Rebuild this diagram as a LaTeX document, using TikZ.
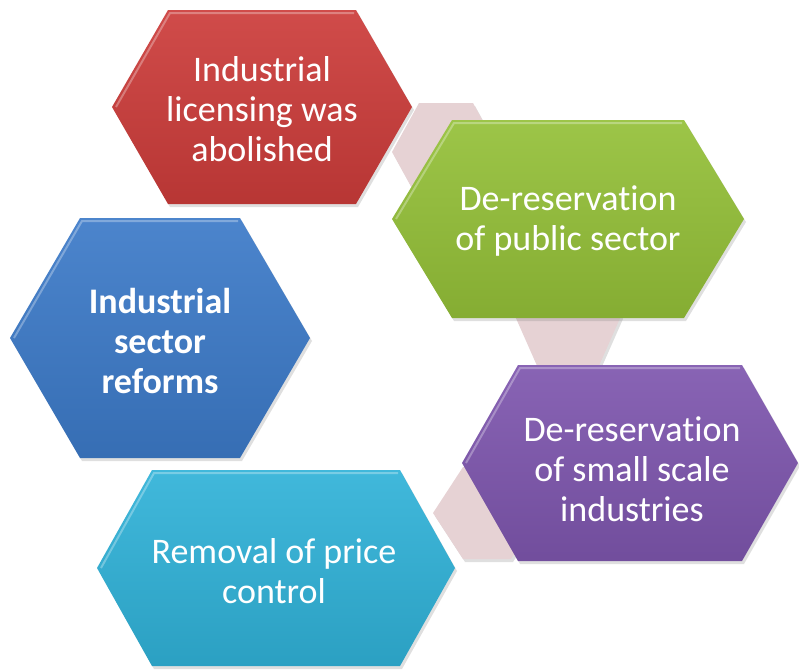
\documentclass[tikz,border=0pt]{standalone}
\usepackage{fontspec}
\setmainfont{Carlito}[RawFeature={-liga;-clig;-calt;-dlig}]
\usetikzlibrary{shadows}

\definecolor{rojo}{RGB}{204,60,58}
\definecolor{verde}{RGB}{148,192,56}
\definecolor{azul}{RGB}{60,122,200}
\definecolor{morado}{RGB}{126,86,174}
\definecolor{celeste}{RGB}{48,178,216}
\definecolor{rosa}{RGB}{230,210,212}

\tikzset{
  texto/.style={text=white, align=center, font=\fontsize{36}{40}\selectfont},
  relleno/.style={top color=#1!92!white, bottom color=#1!90!black},
  sombra/.style={drop shadow={shadow xshift=2pt, shadow yshift=-3pt, opacity=.25}}
}

% hexagono: centro x, centro y, semiancho, semialto, entrada, estilo
\newcommand{\hexagono}[6]{%
  \path[#6]
    ({#1-#3},#2) -- ({#1-#3+#5},{#2-#4}) -- ({#1+#3-#5},{#2-#4})
    -- ({#1+#3},#2) -- ({#1+#3-#5},{#2+#4}) -- ({#1-#3+#5},{#2+#4}) -- cycle;
}
% brillo del bisel superior
\newcommand{\bisel}[5]{%
  \draw[white, opacity=.3, line width=2pt]
    ({#1-#3+4},#2) -- ({#1-#3+#5+2},{#2-#4+3}) -- ({#1+#3-#5-2},{#2-#4+3});
}

\begin{document}
\begin{tikzpicture}[x=1pt, y=-1pt]
        \useasboundingbox (0,0) rectangle (799,670);

        % Hexagonos de enlace (detras)
        \hexagono{446}{152}{54}{49}{27}{fill=rosa, sombra}
        \hexagono{568}{316}{53}{52}{23}{fill=rosa, sombra}
        \hexagono{487}{513}{54}{46}{30}{fill=rosa, sombra}

        % Hexagonos principales
        \hexagono{262}{107}{150}{97}{56}{relleno=rojo, sombra}
        \bisel{262}{107}{150}{97}{56}
        \hexagono{568}{219}{176}{99}{60}{relleno=verde, sombra}
        \bisel{568}{219}{176}{99}{60}
        \hexagono{160}{338}{150}{120}{70}{relleno=azul, sombra}
        \bisel{160}{338}{150}{120}{70}
        \hexagono{630}{463}{168}{98}{56}{relleno=morado, sombra}
        \bisel{630}{463}{168}{98}{56}
        \hexagono{276}{568}{179}{98}{55}{relleno=celeste, sombra}
        \bisel{276}{568}{179}{98}{55}

        % Textos
        \node[texto] (licencias) at (262,109) {Industrial\\licensing was\\abolished};
        \node[texto] (publico) at (568,221) {De-reservation\\of public sector};
        \node[texto, font=\fontsize{36}{40}\selectfont\bfseries] (reformas) at (160,341) {Industrial\\sector\\reforms};
        \node[texto] (pequenas) at (632,469) {De-reservation\\of small scale\\industries};
        \node[texto] (precios) at (274,571) {Removal of price\\control};
\end{tikzpicture}
\end{document}
